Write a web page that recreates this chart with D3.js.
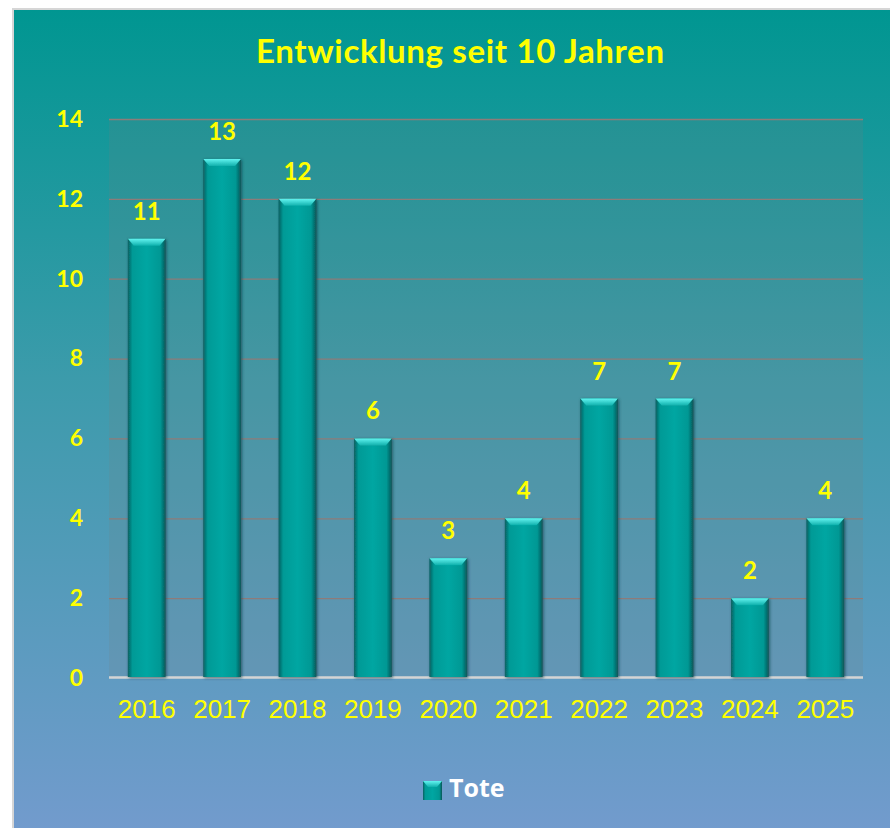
<!DOCTYPE html>
<html lang="de">
<head>
<meta charset="utf-8" />
<title>Entwicklung seit 10 Jahren</title>
<script src="https://cdn.jsdelivr.net/npm/d3@7"></script>
<style>
  body { margin: 0; background: #fff; }
  svg { display: block; }
</style>
</head>
<body>
<div id="chart"></div>
<script>
  // data
  let years = ['2016', '2017', '2018', '2019', '2020', '2021', '2022', '2023', '2024', '2025'];
  let tote = [11, 13, 12, 6, 3, 4, 7, 7, 2, 4];
  let yTicks = [0, 2, 4, 6, 8, 10, 12, 14];
  let titleText = 'Entwicklung seit 10 Jahren';
  let seriesName = 'Tote';

  let W = 890, H = 828;
  let margin = { top: 119, bottom: 150, left: 109, right: 27 };
  let width = W - margin.left - margin.right,
      height = H - margin.top - margin.bottom;

  let svg = d3.select('#chart').append('svg')
    .attr('width', W)
    .attr('height', H);

  let defs = svg.append('defs');

  let bg = defs.append('linearGradient').attr('id', 'bg')
    .attr('x1', 0).attr('y1', 0).attr('x2', 0).attr('y2', 1);
  bg.append('stop').attr('offset', '0%').attr('stop-color', '#009691');
  bg.append('stop').attr('offset', '45%').attr('stop-color', '#3c9bab');
  bg.append('stop').attr('offset', '100%').attr('stop-color', '#729bcd');

  let body = defs.append('linearGradient').attr('id', 'barBody')
    .attr('x1', 0).attr('y1', 0).attr('x2', 1).attr('y2', 0);
  body.append('stop').attr('offset', '0%').attr('stop-color', '#0a5f60');
  body.append('stop').attr('offset', '12%').attr('stop-color', '#009a96');
  body.append('stop').attr('offset', '50%').attr('stop-color', '#00a6a2');
  body.append('stop').attr('offset', '86%').attr('stop-color', '#009894');
  body.append('stop').attr('offset', '100%').attr('stop-color', '#0a5658');

  let cap = defs.append('linearGradient').attr('id', 'barCap')
    .attr('x1', 0).attr('y1', 0).attr('x2', 0).attr('y2', 1);
  cap.append('stop').attr('offset', '0%').attr('stop-color', '#62f4f0');
  cap.append('stop').attr('offset', '100%').attr('stop-color', '#10b0ac');

  let shadow = defs.append('filter').attr('id', 'shadow')
    .attr('x', '-30%').attr('y', '-10%').attr('width', '160%').attr('height', '120%');
  shadow.append('feDropShadow')
    .attr('dx', 1).attr('dy', 1).attr('stdDeviation', 1.5)
    .attr('flood-color', '#0b3a44').attr('flood-opacity', 0.7);

  // chart area
  svg.append('rect')
    .attr('x', 13).attr('y', 9)
    .attr('width', W - 12).attr('height', H - 8)
    .attr('fill', 'url(#bg)')
    .attr('stroke', '#d6d6d6')
    .attr('stroke-width', 2);

  let x = d3.scaleBand()
    .domain(years)
    .range([0, width])
    .paddingInner(0.5)
    .paddingOuter(0.25);

  let y = d3.scaleLinear()
    .domain([0, 14])
    .range([height, 0]);

  let g = svg.append('g')
    .attr('transform', 'translate(' + margin.left + ',' + margin.top + ')');

  // plot area tint
  g.append('rect')
    .attr('width', width).attr('height', height)
    .attr('fill', 'rgba(115,125,128,0.18)');

  let yAxis = d3.axisLeft(y)
    .tickValues(yTicks)
    .tickSize(-width)
    .tickPadding(26);

  let gy = g.append('g').attr('class', 'y-axis').call(yAxis);
  gy.select('.domain').remove();
  gy.selectAll('.tick line')
    .attr('stroke', '#8e7b79')
    .attr('stroke-width', 1.3)
    .attr('display', d => d === 0 ? 'none' : null);
  gy.selectAll('.tick text')
    .attr('fill', '#ffff00')
    .style('font-family', 'Lato, "Open Sans", sans-serif')
    .style('font-weight', 'bold')
    .style('font-size', '23px');

  // baseline
  g.append('line')
    .attr('x1', 0).attr('x2', width)
    .attr('y1', y(0) - 0.5).attr('y2', y(0) - 0.5)
    .attr('stroke', '#d4d4d4')
    .attr('stroke-width', 2.5);

  let xAxis = d3.axisBottom(x).tickSize(0).tickPadding(22);
  let gx = g.append('g').attr('class', 'x-axis')
    .attr('transform', 'translate(0,' + height + ')')
    .call(xAxis);
  gx.select('.domain').remove();
  gx.selectAll('.tick text')
    .attr('fill', '#ffff00')
    .style('font-family', '"Liberation Sans", Arial, sans-serif')
    .style('font-size', '26px');

  let data = years.map((yr, i) => ({ year: yr, value: tote[i] }));
  let bw = x.bandwidth();
  let capH = 7, capIn = 6;

  let bars = g.selectAll('.bar')
    .data(data)
    .enter().append('g')
    .attr('class', 'bar')
    .attr('filter', 'url(#shadow)');

  bars.append('rect')
    .attr('x', d => x(d.year))
    .attr('y', d => y(d.value))
    .attr('width', bw)
    .attr('height', d => y(0) - y(d.value) - 1)
    .attr('fill', 'url(#barBody)');

  bars.append('path')
    .attr('d', d => {
      let x0 = x(d.year), x1 = x0 + bw, yt = y(d.value);
      return 'M' + x0 + ',' + yt + 'L' + x1 + ',' + yt +
        'L' + (x1 - capIn) + ',' + (yt + capH) + 'L' + (x0 + capIn) + ',' + (yt + capH) + 'Z';
    })
    .attr('fill', 'url(#barCap)');

  g.selectAll('.val')
    .data(data)
    .enter().append('text')
    .attr('class', 'val')
    .attr('x', d => x(d.year) + bw / 2)
    .attr('y', d => y(d.value) - 19)
    .attr('text-anchor', 'middle')
    .attr('fill', '#ffff00')
    .style('font-family', 'Lato, "Open Sans", sans-serif')
    .style('font-weight', 'bold')
    .style('font-size', '24px')
    .text(d => d.value);

  // title
  svg.append('text')
    .attr('x', 460).attr('y', 63)
    .attr('text-anchor', 'middle')
    .attr('textLength', 408)
    .attr('lengthAdjust', 'spacing')
    .attr('fill', '#ffff00')
    .style('font-family', 'Lato, "Open Sans", sans-serif')
    .style('font-weight', 'bold')
    .style('font-size', '33px')
    .text(titleText);

  // legend
  let lg = svg.append('g').attr('transform', 'translate(423,781)');
  lg.append('rect')
    .attr('width', 19).attr('height', 19)
    .attr('fill', 'url(#barBody)');
  lg.append('path')
    .attr('d', 'M0,0L19,0L14,6L5,6Z')
    .attr('fill', 'url(#barCap)');
  lg.append('text')
    .attr('x', 26).attr('y', 16)
    .attr('fill', '#ffffff')
    .style('font-family', '"Open Sans", Lato, sans-serif')
    .style('font-weight', 'bold')
    .style('font-size', '25px')
    .text(seriesName);
</script>
</body>
</html>
